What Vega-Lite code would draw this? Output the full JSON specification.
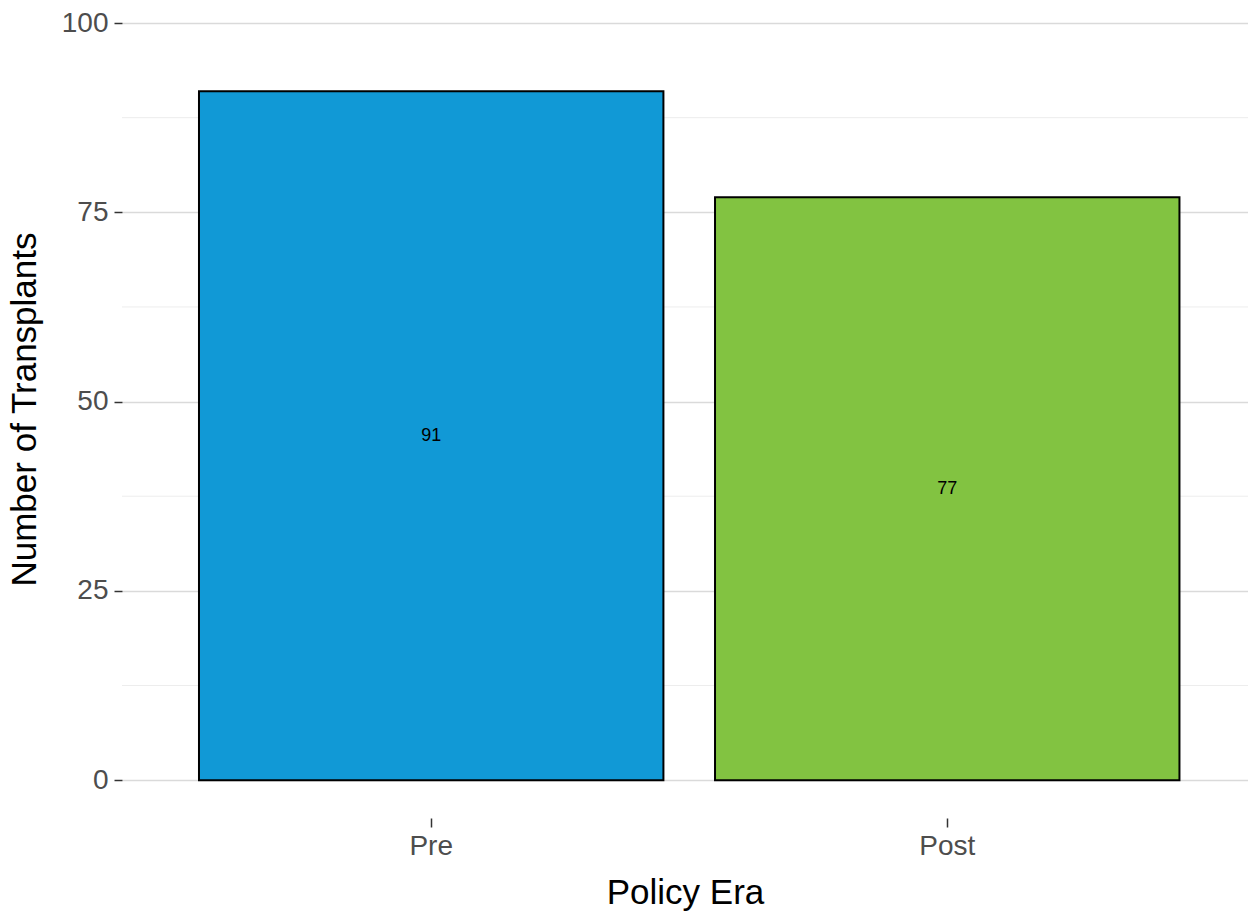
{
  "$schema": "https://vega.github.io/schema/vega-lite/v6.json",
  "width": 1126,
  "height": 818,
  "autosize": {"type": "none"},
  "padding": {"left": 122, "top": 0, "right": 0, "bottom": 93},
  "background": "white",
  "config": {
    "view": {"stroke": null},
    "font": "Liberation Sans",
    "axis": {"labelFont": "Liberation Sans", "titleFont": "Liberation Sans"}
  },
  "datasets": {
    "bars": [
      {"era": "Pre", "count": 91},
      {"era": "Post", "count": 77}
    ],
    "minor": [
      {"v": 12.5}, {"v": 37.5}, {"v": 62.5}, {"v": 87.5}
    ]
  },
  "layer": [
    {
      "data": {"name": "minor"},
      "mark": {"type": "rule", "color": "#ededed", "strokeWidth": 1},
      "encoding": {
        "y": {
          "field": "v", "type": "quantitative",
          "scale": {"domain": [-5, 103.04], "nice": false, "zero": false},
          "axis": {
            "title": "Number of Transplants", "values": [0, 25, 50, 75, 100],
            "domain": false, "grid": true, "gridColor": "#dadada", "gridWidth": 1.5,
            "ticks": true, "tickColor": "#333333", "tickSize": 8, "tickWidth": 1.5,
            "labelFontSize": 28, "labelColor": "#4d4d4d", "labelPadding": 6,
            "titleFontSize": 35, "titleFontWeight": "normal", "titleColor": "black", "titlePadding": 19
          }
        }
      }
    },
    {
      "data": {"name": "bars"},
      "mark": {"type": "bar", "stroke": "black", "strokeWidth": 2},
      "encoding": {
        "x": {
          "field": "era", "type": "nominal", "sort": ["Pre", "Post"],
          "scale": {"paddingInner": 0.1, "paddingOuter": 0.141, "align": 0.529},
          "axis": {
            "title": "Policy Era", "domain": false, "grid": false,
            "ticks": true, "tickColor": "#333333", "tickSize": 9, "tickWidth": 1.5,
            "labelAngle": 0, "labelFontSize": 28, "labelColor": "#4d4d4d", "labelPadding": 5,
            "titleFontSize": 35, "titleFontWeight": "normal", "titleColor": "black", "titlePadding": 15
          }
        },
        "y": {
          "field": "count", "type": "quantitative",
          "scale": {"domain": [-5, 103.04], "nice": false, "zero": false}
        },
        "y2": {"datum": 0},
        "color": {
          "field": "era", "type": "nominal",
          "scale": {"domain": ["Pre", "Post"], "range": ["#1199d6", "#82c341"]},
          "legend": null
        }
      }
    },
    {
      "data": {"name": "bars"},
      "transform": [{"calculate": "datum.count / 2", "as": "mid"}],
      "mark": {"type": "text", "fontSize": 18, "color": "black", "baseline": "middle", "align": "center"},
      "encoding": {
        "x": {"field": "era", "type": "nominal", "sort": ["Pre", "Post"]},
        "y": {"field": "mid", "type": "quantitative"},
        "text": {"field": "count", "type": "quantitative"}
      }
    }
  ]
}
